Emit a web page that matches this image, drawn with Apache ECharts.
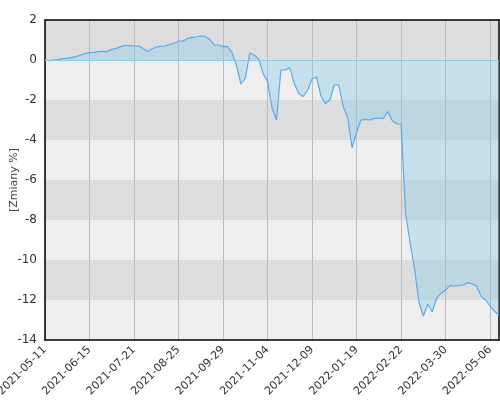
<!DOCTYPE html>
<html>
<head>
<meta charset="utf-8">
<script src="https://cdn.jsdelivr.net/npm/echarts@6/dist/echarts.min.js"></script>
<style>html,body{margin:0;padding:0;background:#fff}#c{width:500px;height:400px}</style>
</head>
<body>
<div id="c"></div>
<script>
var dates = [
'2021-05-11','2021-05-14','2021-05-18','2021-05-21','2021-05-25','2021-05-28','2021-06-01','2021-06-04','2021-06-08','2021-06-11',
'2021-06-15','2021-06-18','2021-06-22','2021-06-25','2021-06-29','2021-07-02','2021-07-06','2021-07-09','2021-07-13','2021-07-16',
'2021-07-21','2021-07-23','2021-07-27','2021-07-30','2021-08-03','2021-08-06','2021-08-10','2021-08-13','2021-08-18','2021-08-20',
'2021-08-25','2021-08-27','2021-08-31','2021-09-03','2021-09-07','2021-09-10','2021-09-14','2021-09-17','2021-09-21','2021-09-24',
'2021-09-29','2021-10-01','2021-10-05','2021-10-08','2021-10-12','2021-10-15','2021-10-19','2021-10-22','2021-10-26','2021-10-29',
'2021-11-04','2021-11-08','2021-11-12','2021-11-16','2021-11-19','2021-11-23','2021-11-26','2021-11-30','2021-12-03','2021-12-07',
'2021-12-09','2021-12-13','2021-12-16','2021-12-20','2021-12-23','2021-12-29','2022-01-03','2022-01-05','2022-01-11','2022-01-14',
'2022-01-19','2022-01-21','2022-01-25','2022-01-28','2022-02-01','2022-02-04','2022-02-08','2022-02-11','2022-02-15','2022-02-18',
'2022-02-22','2022-02-24','2022-02-28','2022-03-03','2022-03-08','2022-03-11','2022-03-15','2022-03-18','2022-03-22','2022-03-25',
'2022-03-30','2022-04-01','2022-04-05','2022-04-08','2022-04-12','2022-04-15','2022-04-21','2022-04-25','2022-04-28','2022-05-04',
'2022-05-06','2022-05-10','2022-05-12'
];
var changes = [
0.0,-0.03,0.0,0.02,0.07,0.08,0.13,0.17,0.25,0.32,
0.37,0.38,0.42,0.43,0.42,0.53,0.58,0.67,0.72,0.72,
0.7,0.7,0.58,0.42,0.55,0.65,0.68,0.7,0.78,0.83,
0.95,0.95,1.08,1.13,1.15,1.2,1.18,1.03,0.75,0.75,
0.67,0.67,0.38,-0.25,-1.2,-0.92,0.35,0.25,0.05,-0.67,
-1.08,-2.4,-3.0,-0.5,-0.5,-0.38,-1.17,-1.67,-1.83,-1.5,
-0.95,-0.85,-1.8,-2.17,-2.0,-1.25,-1.25,-2.33,-2.87,-4.4,
-3.6,-3.0,-2.97,-3.0,-2.92,-2.92,-2.92,-2.58,-3.03,-3.2,
-3.2,-7.65,-9.1,-10.4,-12.1,-12.8,-12.2,-12.6,-11.9,-11.67,
-11.5,-11.28,-11.3,-11.28,-11.25,-11.13,-11.2,-11.33,-11.83,-12.0,
-12.3,-12.58,-12.75
];
var yMin = -14, yMax = 2, yStep = 2;
var yTitle = '[Zmiany %]';

var chart = echarts.init(document.getElementById('c'), null, {renderer:'canvas'});
chart.setOption({
  animation: false,
  grid: {left: 45, top: 20, right: 1, bottom: 60, show: false, containLabel: false, outerBoundsMode: 'none'},
  xAxis: [{
    type: 'category', data: dates, boundaryGap: false,
    axisLine: {show: true, onZero: false, lineStyle: {color: '#000', width: 1.5}},
    axisTick: {show: false},
    axisLabel: {interval: 9, rotate: 45, color: '#333', fontSize: 11, fontFamily: 'DejaVu Sans', margin: 8},
    splitLine: {show: true, interval: 9, lineStyle: {color: '#bbbbbb', width: 1}}
  },{
    type: 'category', data: dates, boundaryGap: false, position: 'top',
    axisLine: {show: true, onZero: false, lineStyle: {color: '#000', width: 1.5}},
    axisTick: {show: false}, axisLabel: {show: false}, splitLine: {show: false}
  }],
  yAxis: [{
    type: 'value', min: yMin, max: yMax, interval: yStep,
    name: yTitle, nameLocation: 'middle', nameGap: 25, nameMoveOverlap: false,
    nameTextStyle: {color: '#444', fontSize: 11, fontFamily: 'DejaVu Sans'},
    axisLine: {show: true, onZero: false, lineStyle: {color: '#000', width: 1.5}},
    axisTick: {show: false},
    axisLabel: {color: '#333', fontSize: 12, fontFamily: 'DejaVu Sans', margin: 8},
    splitLine: {show: false},
    splitArea: {show: true, areaStyle: {color: ['#eeeeee', '#dddddd']}}
  },{
    type: 'value', min: yMin, max: yMax, interval: yStep, position: 'right',
    axisLine: {show: true, onZero: false, lineStyle: {color: '#000', width: 1.5}},
    axisTick: {show: false}, axisLabel: {show: false}, splitLine: {show: false}
  }],
  series: [{
    type: 'line', data: changes, showSymbol: false, symbol: 'none',
    lineStyle: {color: '#5aaaf0', width: 1.2},
    areaStyle: {color: 'rgba(135,205,235,0.55)', origin: 0},
    markLine: {
      silent: true, symbol: 'none', label: {show: false},
      lineStyle: {color: '#88ccec', width: 1, type: 'solid'},
      data: [{yAxis: 0}]
    }
  }]
});
</script>
</body>
</html>
